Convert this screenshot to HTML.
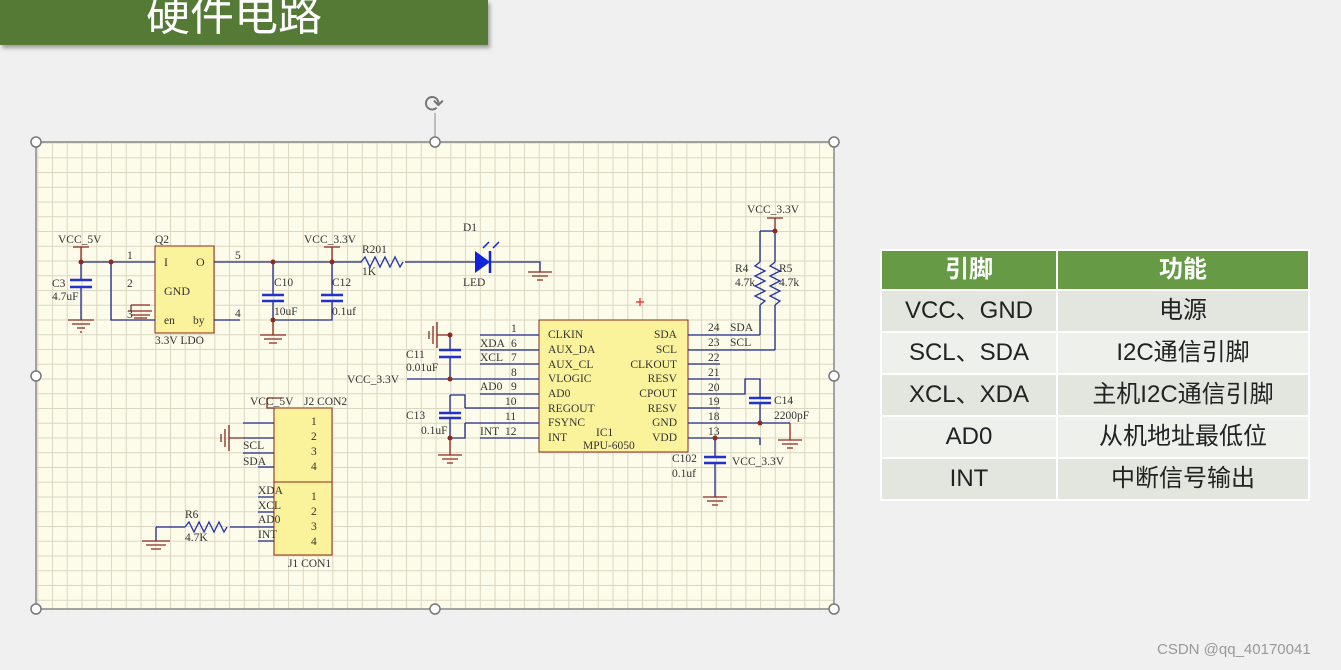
<!DOCTYPE html>
<html><head><meta charset="utf-8"><style>
html,body{margin:0;padding:0;background:#f0f0f0;width:1341px;height:670px;overflow:hidden;font-family:"Liberation Sans","Noto Sans CJK SC",sans-serif}
.title{position:absolute;left:0;top:0;width:488px;height:45px;background:#547a35;box-shadow:2px 3px 4px rgba(0,0,0,.35);color:#fff;font-size:44px;line-height:40px;text-align:center;font-family:"Noto Sans CJK SC","WenQuanYi Zen Hei",sans-serif;overflow:hidden}
.title span{position:relative;left:-10px;top:-9px;display:block}
.grid{position:absolute;left:36px;top:142px;width:798px;height:467px;background-color:#fdfbe9;
background-image:linear-gradient(to right,#dad6c2 1px,transparent 1px),linear-gradient(to bottom,#dad6c2 1px,transparent 1px);
background-size:14.75px 14.75px;background-position:1.3px 0.5px}
table{position:absolute;left:880px;top:249px;border-collapse:collapse;font-family:"Liberation Sans","Noto Sans CJK SC",sans-serif}
td{height:40px;line-height:40px;border:2px solid #fff;text-align:center;font-size:24px;color:#222;background:#e2e6df;padding:0;vertical-align:middle}
tr:nth-child(odd) td{background:#eef0ec}
th{height:38px;line-height:38px;background:#669a44;color:#fff;font-size:24px;border:2px solid #fff;font-weight:bold;padding:0}
.wm{position:absolute;left:1157px;top:641px;color:#999;font-size:15px}
</style></head><body>
<div class="title"><span>硬件电路</span></div>
<div class="grid"></div>
<svg width="1341" height="670" style="position:absolute;left:0;top:0" font-family="Liberation Serif,serif" font-size="11.5">
<rect x="36" y="142" width="798" height="467" fill="none" stroke="#888" stroke-width="1.5"/>
<line x1="435" y1="113" x2="435" y2="142" stroke="#888"/>
<text x="424" y="112" font-size="24" fill="#777" font-family="DejaVu Sans">⟳</text>
<g fill="#fff" stroke="#777" stroke-width="1.5">
<circle cx="36" cy="142" r="5"/><circle cx="435" cy="142" r="5"/><circle cx="834" cy="142" r="5"/>
<circle cx="36" cy="376" r="5"/><circle cx="834" cy="376" r="5"/>
<circle cx="36" cy="609" r="5"/><circle cx="435" cy="609" r="5"/><circle cx="834" cy="609" r="5"/></g>
<g fill="#fbf39c" stroke="#8b2a1e" stroke-width="1">
<rect x="155" y="246" width="59" height="87"/>
<rect x="539" y="320" width="149" height="132"/>
<rect x="274" y="408" width="58" height="74"/>
<rect x="274" y="482" width="58" height="73"/></g>
<g stroke="#1f2a8c" stroke-width="1.3" fill="none">
<path d="M81 262H155M111 262V320H155M214 262H362M405 262H475M490 262H540V270"/>
<path d="M214 320H240M273 262V295M273 301V320H332V301M332 295V262"/>
<path d="M81 262V280M81 287V320"/>
<path d="M480 335H539M480 350H539M480 364H539M407 379H539M480 394H539M465 408H539M465 423H539M480 438H539"/>
<path d="M450 335V350M450 357V379M450 395V413M450 418V438H465V423M450 395H465V408"/>
<path d="M688 335H760M688 350H775M688 364H720M688 379H720M688 394H745V379H760V398M760 403V423M688 408H720M688 423H790M688 438H760V445M715 438V457M715 463V497"/>
<path d="M760 231H775M760 231V262M775 231V262M760 305V335M775 305V350"/>
<path d="M243 423H274M243 438H274M243 453H274M258 467H274M258 497H274M258 512H274M258 527H274M258 541H274M230 527H274M156 527V541M156 527H185"/>
<path d="M361 262l4-5 5 10 5-10 5 10 5-10 5 10 5-10 5 10 3-5" stroke="#2233aa"/>
<path d="M185 527l4-5 5 10 5-10 5 10 5-10 5 10 5-10 5 10 3-5" stroke="#2233aa"/>
<path d="M760 262l-5 4 10 5-10 5 10 5-10 5 10 5-10 5 10 5-5 4M775 262l-5 4 10 5-10 5 10 5-10 5 10 5-10 5 10 5-5 4" stroke="#2233aa"/>
</g>
<g stroke="#2233cc" stroke-width="2.5"><path d="M70 280H92M70 287H92M262 295H284M262 301H284M321 295H343M321 301H343M439 350H461M439 357H461M439 413H461M439 418H461M749 398H771M749 403H771M704 457H726M704 463H726"/></g>
<path d="M475 251L490 262L475 273Z" fill="#1122dd"/><path d="M490 251V273" stroke="#1122dd" stroke-width="2.5"/>
<path d="M483 248l6-6M493 248l6-6" stroke="#1122dd" stroke-width="1.5"/>
<g stroke="#8b2a1e" stroke-width="1.3" fill="none">
<path d="M81 247V262M73 247H89M332 247V262M324 247H340M775 218V231M767 218H783M267 398H282M267 398V408H274"/>
<path d="M68 320H94M72 324H90M77 328H85M80 332H82"/>
<path d="M260 335H286M264 339H282M269 343H277"/>
<path d="M528 272H552M532 276H548M537 280H543"/>
<path d="M273 320V335M540 270V272"/>
<path d="M131 305H150M131 305V311M128 311H152M131 315H150M134 318H147"/>
<path d="M450 335H437M437 322V348M433 326V344M429 331V339"/>
<path d="M450 438V455M438 455H462M442 459H458M447 463H453"/>
<path d="M790 423V440M778 440H802M782 444H798M787 448H793"/>
<path d="M715 497H703M703 497H727M707 501H723M712 505H718"/>
<path d="M243 438H229M229 425V451M225 429V447M221 434V442"/>
<path d="M156 541H142M142 541H170M146 545H166M151 549H161"/></g>
<g fill="#8b2a1e"><circle cx="81" cy="262" r="2.5"/><circle cx="111" cy="262" r="2.5"/><circle cx="273" cy="262" r="2.5"/><circle cx="332" cy="262" r="2.5"/><circle cx="273" cy="320" r="2.5"/><circle cx="450" cy="335" r="2.5"/><circle cx="450" cy="379" r="2.5"/><circle cx="450" cy="438" r="2.5"/><circle cx="775" cy="231" r="2.5"/><circle cx="760" cy="423" r="2.5"/><circle cx="715" cy="438" r="2.5"/></g>
<path d="M636 302h8M640 298v8" stroke="#e22" stroke-width="1.2"/>
<g fill="#333">
<text x="58" y="243">VCC_5V</text><text x="155" y="243">Q2</text><text x="127" y="259">1</text><text x="127" y="287">2</text><text x="127" y="318">3</text><text x="235" y="259">5</text><text x="235" y="317">4</text>
<text x="164" y="266" font-size="12">I</text><text x="196" y="266" font-size="12">O</text><text x="164" y="295" font-size="12">GND</text><text x="164" y="324">en</text><text x="193" y="324">by</text><text x="155" y="344">3.3V  LDO</text>
<text x="52" y="287">C3</text><text x="52" y="300">4.7uF</text><text x="274" y="286">C10</text><text x="274" y="315">10uF</text><text x="332" y="286">C12</text><text x="332" y="315">0.1uf</text>
<text x="304" y="243">VCC_3.3V</text><text x="362" y="253">R201</text><text x="362" y="275">1K</text><text x="463" y="231">D1</text><text x="463" y="286">LED</text>
<text x="747" y="213">VCC_3.3V</text><text x="735" y="272">R4</text><text x="735" y="286">4.7k</text><text x="779" y="272">R5</text><text x="779" y="286">4.7k</text>
<text x="511" y="332">1</text><text x="480" y="347">XDA</text><text x="511" y="347">6</text><text x="480" y="361">XCL</text><text x="511" y="361">7</text><text x="511" y="376">8</text><text x="480" y="390">AD0</text><text x="511" y="390">9</text><text x="505" y="405">10</text><text x="505" y="420">11</text><text x="480" y="435">INT</text><text x="505" y="435">12</text>
<text x="406" y="358">C11</text><text x="406" y="371">0.01uF</text><text x="347" y="383">VCC_3.3V</text><text x="406" y="419">C13</text><text x="421" y="434">0.1uF</text>
<text x="548" y="338">CLKIN</text><text x="548" y="353">AUX_DA</text><text x="548" y="368">AUX_CL</text><text x="548" y="382">VLOGIC</text><text x="548" y="397">AD0</text><text x="548" y="412">REGOUT</text><text x="548" y="426">FSYNC</text><text x="548" y="441">INT</text>
<text x="677" y="338" text-anchor="end">SDA</text><text x="677" y="353" text-anchor="end">SCL</text><text x="677" y="368" text-anchor="end">CLKOUT</text><text x="677" y="382" text-anchor="end">RESV</text><text x="677" y="397" text-anchor="end">CPOUT</text><text x="677" y="412" text-anchor="end">RESV</text><text x="677" y="426" text-anchor="end">GND</text><text x="677" y="441" text-anchor="end">VDD</text>
<text x="596" y="436">IC1</text><text x="583" y="449">MPU-6050</text>
<text x="708" y="331">24</text><text x="730" y="331">SDA</text><text x="708" y="346">23</text><text x="730" y="346">SCL</text><text x="708" y="361">22</text><text x="708" y="376">21</text><text x="708" y="391">20</text><text x="708" y="405">19</text><text x="708" y="420">18</text><text x="708" y="435">13</text>
<text x="774" y="404">C14</text><text x="774" y="419">2200pF</text><text x="672" y="462">C102</text><text x="672" y="477">0.1uf</text><text x="732" y="465">VCC_3.3V</text>
<text x="250" y="405">VCC_5V</text><text x="304" y="405">J2 CON2</text><text x="243" y="449">SCL</text><text x="243" y="465">SDA</text>
<text x="311" y="425">1</text><text x="311" y="440">2</text><text x="311" y="455">3</text><text x="311" y="470">4</text>
<text x="258" y="494">XDA</text><text x="258" y="509">XCL</text><text x="258" y="523">AD0</text><text x="258" y="538">INT</text>
<text x="311" y="500">1</text><text x="311" y="515">2</text><text x="311" y="530">3</text><text x="311" y="545">4</text><text x="288" y="567">J1 CON1</text>
<text x="185" y="518">R6</text><text x="185" y="541">4.7K</text></g>
</svg>
<table>
<tr><th style="width:174px">引脚</th><th style="width:250px">功能</th></tr>
<tr><td>VCC、GND</td><td>电源</td></tr>
<tr><td>SCL、SDA</td><td>I2C通信引脚</td></tr>
<tr><td>XCL、XDA</td><td>主机I2C通信引脚</td></tr>
<tr><td>AD0</td><td>从机地址最低位</td></tr>
<tr><td>INT</td><td>中断信号输出</td></tr>
</table>
<div class="wm">CSDN @qq_40170041</div>
</body></html>
